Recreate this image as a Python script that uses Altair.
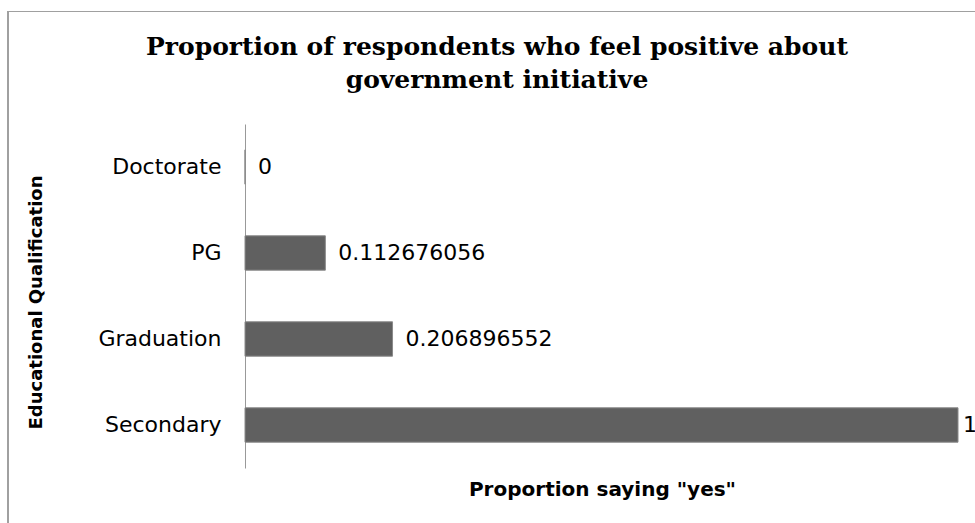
import altair as alt
import pandas as pd

categories = ["Doctorate", "PG", "Graduation", "Secondary"]
values = [0, 0.112676056, 0.206896552, 1]
value_labels = ["0", "0.112676056", "0.206896552", "1"]
title_lines = ["Proportion of respondents who feel positive about", "government initiative"]

df = pd.DataFrame({"cat": categories, "val": values, "lab": value_labels})

W, H = 713, 344
LEFT, TOP = 245, 124

y_enc = alt.Y(
    "cat:N",
    sort=categories,
    scale=alt.Scale(paddingInner=0.6, paddingOuter=0.3),
    axis=alt.Axis(
        title="Educational Qualification",
        titleFont="DejaVu Sans",
        titleFontSize=18,
        titleFontWeight="bold",
        titleColor="#000000",
        titleAngle=270,
        titleX=36 - LEFT,
        titleY=302 - TOP,
        titleAlign="center",
        titleBaseline="middle",
        labelFont="DejaVu Sans",
        labelFontSize=22,
        labelColor="#000000",
        labelPadding=24,
        ticks=False,
        domain=True,
        domainColor="#999999",
        domainWidth=1,
        grid=False,
    ),
)

x_enc = alt.X(
    "val:Q",
    scale=alt.Scale(domain=[0, 1], nice=False),
    axis=alt.Axis(
        title='Proportion saying "yes"',
        titleFont="DejaVu Sans",
        titleFontSize=20,
        titleFontWeight="bold",
        titleColor="#000000",
        titleX=602 - LEFT,
        titleY=495 - (TOP + H),
        titleAlign="center",
        titleBaseline="alphabetic",
        labels=False,
        ticks=False,
        domain=False,
        grid=False,
    ),
)

bars = alt.Chart(df).mark_bar(color="#606060", stroke="#8a8a8a", strokeWidth=1).encode(
    x=x_enc, y=y_enc
)

text_small = alt.Chart(df).transform_filter(alt.datum.val < 1).mark_text(
    align="left", baseline="middle", dx=13, font="DejaVu Sans", fontSize=22, color="#000000", clip=False
).encode(
    x=alt.X("val:Q"),
    y=alt.Y("cat:N", sort=categories),
    text="lab:N",
)
text_full = alt.Chart(df).transform_filter(alt.datum.val >= 1).mark_text(
    align="left", baseline="middle", dx=5, font="DejaVu Sans", fontSize=22, color="#000000", clip=False
).encode(
    x=alt.X("val:Q"),
    y=alt.Y("cat:N", sort=categories),
    text="lab:N",
)

title_layers = []
for line, base_y in zip(title_lines, [55, 88]):
    tdf = pd.DataFrame({"t": [line]})
    title_layers.append(
        alt.Chart(tdf).mark_text(
            align="center", baseline="alphabetic", font="DejaVu Serif", fontSize=25,
            fontWeight="bold", color="#000000", clip=False
        ).encode(
            x=alt.value(497 - LEFT),
            y=alt.value(base_y - TOP),
            text="t:N",
        )
    )

one = pd.DataFrame({"k": [0]})
border_left = alt.Chart(one).mark_rule(color="#a0a0a0", strokeWidth=2, clip=False).encode(
    x=alt.value(8 - LEFT), y=alt.value(11 - TOP), y2=alt.value(530 - TOP)
)
border_top = alt.Chart(one).mark_rule(color="#a0a0a0", strokeWidth=1, clip=False).encode(
    x=alt.value(7 - LEFT), x2=alt.value(1000 - LEFT), y=alt.value(11.5 - TOP)
)

chart = (
    alt.layer(bars, text_small, text_full, *title_layers, border_left, border_top)
    .properties(
        width=W,
        height=H,
        background="white",
        autosize=alt.AutoSizeParams(type="none"),
        padding={"left": LEFT, "top": TOP, "right": 975 - LEFT - W, "bottom": 523 - TOP - H},
    )
    .configure_view(stroke="transparent", strokeWidth=0)
)

chart.save("out.html", embed_options={"renderer": "svg", "actions": False})
